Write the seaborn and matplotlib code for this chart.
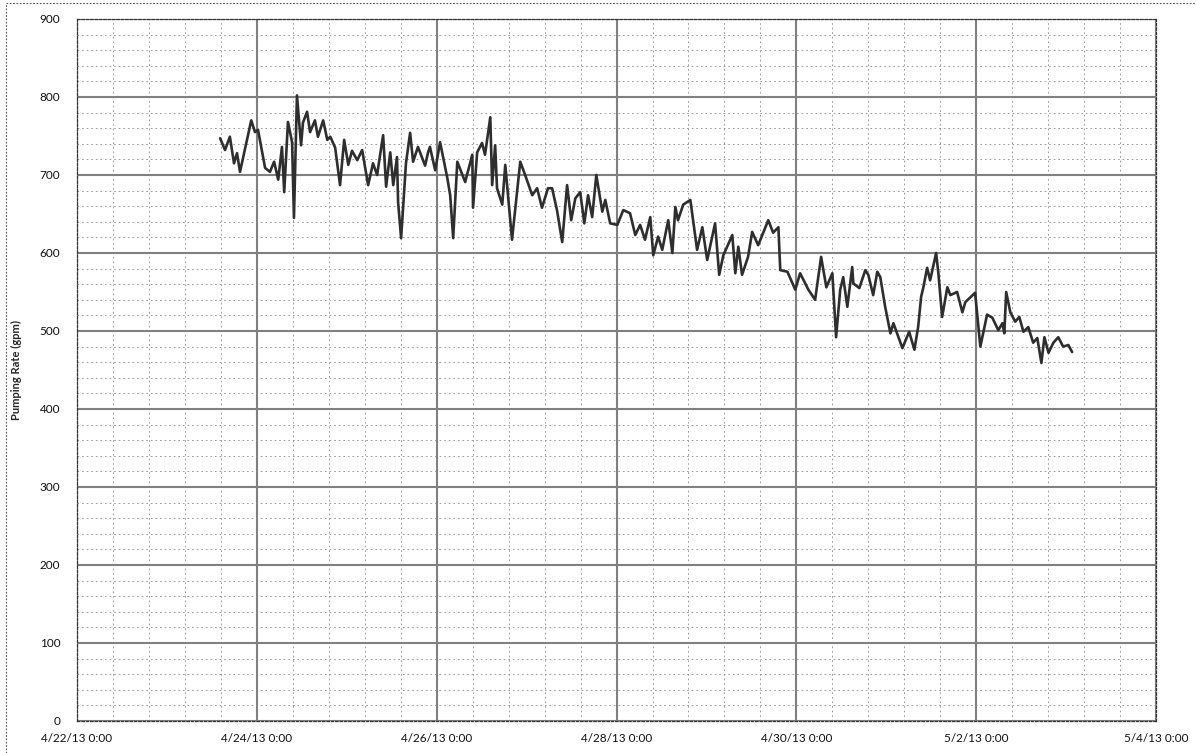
import matplotlib
matplotlib.use("Agg")
import matplotlib.pyplot as plt
import matplotlib.dates as mdates
from matplotlib.ticker import FixedLocator, FuncFormatter
import numpy as np
import pandas as pd
import seaborn as sns

# hours since 4/22/13 0:00 and pumping rate (gpm)
hours = [38.2, 39.5, 40.8, 41.9, 42.7, 43.5, 44.9, 46.5, 47.5, 48.3,
         50.2, 51.5, 52.6, 53.7, 54.7, 55.3, 56.3, 57.4, 57.9, 58.7,
         59.8, 60.3, 61.4, 62.2, 63.5, 64.3, 65.7, 66.8, 67.6, 68.9,
         70.2, 71.3, 72.4, 73.4, 74.8, 76.1, 77.7, 79.0, 80.1, 80.9,
         81.7, 82.5, 83.6, 84.4, 85.4, 85.7, 86.5, 87.8, 88.9, 89.7,
         91.0, 92.9, 93.7, 94.2, 95.6, 96.9, 98.8, 99.6, 100.4, 101.5,
         103.6, 105.5, 105.7, 106.8, 108.1, 108.9, 110.3, 110.8, 111.6, 112.1,
         113.5, 114.3, 116.1, 118.3, 119.6, 121.5, 122.8, 124.1, 125.7, 126.8,
         128.1, 129.5, 130.8, 131.9, 133.0, 134.3, 135.4, 136.4, 137.5, 138.6,
         140.2, 141.0, 142.3, 144.2, 145.8, 147.6, 149.0, 150.3, 151.6, 153.0,
         153.8, 155.1, 156.2, 157.8, 158.9, 159.7, 160.4, 161.8, 163.7, 165.5,
         166.9, 168.2, 170.3, 171.4, 172.5, 174.9, 175.7, 176.5, 177.5, 179.1,
         180.2, 181.8, 184.5, 185.8, 187.2, 187.7, 189.6, 191.7, 193.0, 195.2,
         197.0, 198.6, 200.0, 201.6, 202.6, 203.7, 204.5, 205.6, 206.9, 207.2,
         208.8, 210.4, 211.2, 212.5, 213.6, 214.4, 215.7, 217.1, 217.9, 220.3,
         222.1, 223.5, 224.5, 225.3, 225.9, 226.9, 227.7, 229.3, 229.9, 230.9,
         232.3, 233.1, 234.9, 236.3, 237.1, 239.7, 241.1, 242.9, 244.3, 245.9,
         247.0, 247.5, 248.0, 249.1, 250.4, 251.5, 252.6, 253.9, 255.2, 256.3,
         257.4, 258.2, 259.3, 260.6, 261.9, 263.2, 264.6, 265.6]
rate = [747, 732, 749, 715, 728, 704, 735, 770, 755, 758,
        709, 704, 717, 694, 736, 678, 768, 742, 645, 802,
        738, 767, 781, 755, 770, 749, 770, 745, 749, 735,
        687, 745, 713, 731, 719, 732, 687, 715, 700, 726,
        751, 685, 729, 687, 723, 665, 619, 715, 754, 717,
        736, 712, 729, 736, 706, 742, 697, 674, 619, 717,
        691, 726, 658, 729, 741, 726, 774, 687, 738, 683,
        662, 713, 617, 717, 700, 674, 683, 658, 683, 683,
        655, 614, 687, 642, 670, 678, 638, 674, 646, 700,
        653, 668, 638, 636, 655, 651, 623, 636, 617, 646,
        597, 621, 604, 642, 600, 659, 642, 662, 668, 604,
        633, 591, 638, 572, 597, 623, 574, 608, 572, 595,
        627, 610, 642, 626, 633, 578, 576, 553, 574, 553,
        540, 595, 556, 574, 492, 553, 569, 531, 582, 561,
        555, 578, 572, 546, 576, 569, 531, 497, 510, 478,
        499, 476, 505, 544, 556, 581, 565, 600, 574, 518,
        556, 546, 550, 524, 537, 549, 480, 521, 517, 501,
        510, 497, 550, 524, 512, 518, 499, 505, 485, 491,
        459, 492, 472, 485, 492, 480, 482, 473]

x_start = "2013-04-22"
x_end = "2013-05-04"
y_ticks = [0, 100, 200, 300, 400, 500, 600, 700, 800, 900]

df = pd.DataFrame({
    "time": pd.Timestamp(x_start) + pd.to_timedelta(hours, unit="h"),
    "rate": rate,
})

sns.set_style("white")
plt.rcParams["font.family"] = ["Lato", "DejaVu Sans"]

fig = plt.figure(figsize=(11.96, 7.53), dpi=100)
ax = fig.add_axes([0.0644, 0.0425, 0.9022, 0.9323])

# grid first so the trace sits on top
t0 = mdates.date2num(pd.Timestamp(x_start))
t1 = mdates.date2num(pd.Timestamp(x_end))
ax.xaxis.set_major_locator(FixedLocator(np.arange(t0, t1 + 0.01, 2)))
ax.xaxis.set_minor_locator(FixedLocator(np.arange(t0, t1 + 0.01, 0.4)))
ax.yaxis.set_major_locator(FixedLocator(y_ticks))
ax.yaxis.set_minor_locator(FixedLocator(np.arange(0, 901, 20)))
ax.grid(which="minor", color="#8a8a8a", linestyle=(0, (2, 3.5)), linewidth=0.6)
ax.grid(which="major", color="#808080", linestyle="-", linewidth=1.5)
ax.set_axisbelow(True)

sns.lineplot(data=df, x="time", y="rate", ax=ax, color="#2e2e2e", linewidth=1.9)

ax.set_xlim(t0, t1)
ax.set_ylim(0, 900)


def fmt_date(v, pos):
    d = mdates.num2date(v)
    return f"{d.month}/{d.day}/{d.strftime('%y')} {d.hour}:{d.minute:02d}"


ax.xaxis.set_major_formatter(FuncFormatter(fmt_date))
ax.tick_params(which="both", length=0, labelsize=8.5, colors="#111111")
ax.tick_params(axis="x", pad=9)
ax.tick_params(axis="y", pad=12)
ax.set_xlabel("")
ax.set_ylabel("Pumping Rate (gpm)", fontsize=8, fontweight="bold", labelpad=13)

for s in ax.spines.values():
    s.set_color("#333333")
    s.set_linewidth(0.9)
    s.set_linestyle((0, (2, 1.5)))

# dotted frame of the scanned chart area
fig.add_artist(plt.Line2D([0.005, 0.005], [0.0, 0.996], transform=fig.transFigure,
                          color="#555555", linewidth=0.8, linestyle=(0, (1.5, 1.5))))
fig.add_artist(plt.Line2D([0.005, 1.0], [0.996, 0.996], transform=fig.transFigure,
                          color="#555555", linewidth=0.8, linestyle=(0, (1.5, 1.5))))

fig.savefig("out.png", dpi=100)
